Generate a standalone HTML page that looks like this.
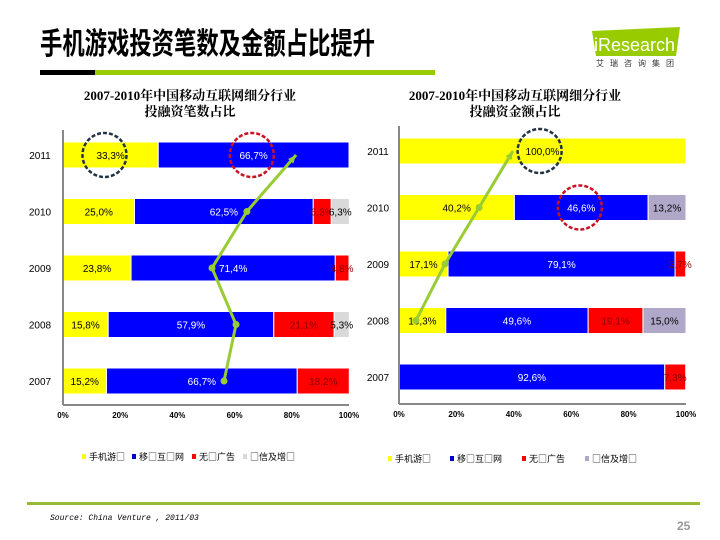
<!DOCTYPE html>
<html><head><meta charset="utf-8"><style>
body{margin:0;background:#fff}
svg{display:block;font-family:"Liberation Sans","Noto Sans CJK SC",sans-serif}
</style></head><body>
<svg id="c" width="720" height="540" viewBox="0 0 720 540">
<text x="40" y="54" font-size="30" font-weight="bold" textLength="335" lengthAdjust="spacingAndGlyphs" font-family="'Noto Sans CJK SC',sans-serif">手机游戏投资笔数及金额占比提升</text>
<rect x="40" y="70" width="55" height="5" fill="#000"/>
<rect x="95" y="70" width="340" height="5" fill="#99cc00"/>
<g>
<path d="M592 31 L680 27 L676 56 L596 56 Z" fill="#99cc00"/>
<text x="594" y="51" font-size="18" fill="#fff">iResearch</text>
<text x="596" y="66" font-size="8" fill="#333" letter-spacing="6" font-family="'Noto Sans CJK SC',sans-serif">艾瑞咨询集团</text>
</g>
<g font-weight="bold" font-size="13" text-anchor="middle" font-family="'Liberation Serif','Noto Serif CJK SC',serif">
<text x="190" y="100">2007-2010年中国移动互联网细分行业</text>
<text x="190" y="116">投融资笔数占比</text>
<text x="515" y="100">2007-2010年中国移动互联网细分行业</text>
<text x="515" y="116">投融资金额占比</text>
</g>
<g id="left"></g><g id="right"></g>
<g font-size="9" font-family="'Noto Sans CJK SC',sans-serif">
<rect x="82" y="454" width="4" height="5" fill="#ffff00"/><text x="89" y="460">手机游□</text>
<rect x="132" y="454" width="4" height="5" fill="#0000cc"/><text x="139" y="460">移□互□网</text>
<rect x="192" y="454" width="4" height="5" fill="#ff0000"/><text x="199" y="460">无□广告</text>
<rect x="243" y="454" width="4" height="5" fill="#d9d9d9"/><text x="250" y="460">□信及增□</text>
<rect x="388" y="456" width="4" height="5" fill="#ffff00"/><text x="395" y="462">手机游□</text>
<rect x="450" y="456" width="4" height="5" fill="#0000cc"/><text x="457" y="462">移□互□网</text>
<rect x="522" y="456" width="4" height="5" fill="#ff0000"/><text x="529" y="462">无□广告</text>
<rect x="585" y="456" width="4" height="5" fill="#b0a8c8"/><text x="592" y="462">□信及增□</text>
</g>
<rect x="27" y="502" width="673" height="3" fill="#99bb33"/>
<text x="50" y="520" font-size="8" font-style="italic" font-family="'Liberation Mono',monospace">Source: China Venture , 2011/03</text>
<text x="677" y="530" font-size="12" font-weight="bold" fill="#999">25</text>
</svg>
<script>
const years=['2011','2010','2009','2008','2007'];
const ticks=['0%','20%','40%','60%','80%','100%'];
const leftGames=[33.3,25.0,23.8,15.8,15.2];
const leftMobile=[66.7,62.5,71.4,57.9,66.7];
const leftAds=[0,6.3,4.8,21.1,18.2];
const leftVas=[0,6.3,0,5.3,0];
const leftTrend=[81.5,64.3,52.1,60.5,56.3];
const rightGames=[100.0,40.2,17.1,16.3,0];
const rightMobile=[0,46.6,79.1,49.6,92.6];
const rightAds=[0,0,3.7,19.1,7.3];
const rightVas=[0,13.2,0,15.0,0];
const rightTrend=[39.7,27.9,16.0,5.9,null];
const NS='http://www.w3.org/2000/svg';
function mk(p,t,a){const e=document.createElementNS(NS,t);for(const k in a)e.setAttribute(k,a[k]);p.appendChild(e);return e;}
function chart(g,side,x0,x1,yTop,axisY,yearX,series,colors,labelColors,trend,circles){
  const X=v=>x0+(x1-x0)*v/100;
  const Y=i=>yTop+i*56.5;
  const bh=26;
  ticks.forEach((t,i)=>{const e=mk(g,'text',{x:X(i*20),y:axisY+13,'font-size':8,'font-weight':'bold','text-anchor':'middle'});e.textContent=t;
    
    });
  years.forEach((yr,i)=>{
    const e=mk(g,'text',{x:yearX,y:Y(i)+bh/2+4,'font-size':10,'text-anchor':'middle'});e.textContent=yr;
    
    
    let acc=0;
    series.forEach((s,k)=>{const v=s[i];if(!v){return;}
      const r=mk(g,'rect',{x:X(acc),y:Y(i),width:X(acc+v)-X(acc),height:bh,fill:colors[k],stroke:'#fff','stroke-width':1});
      
      
      const tx=mk(g,'text',{x:(X(acc)+X(acc+v))/2,y:Y(i)+bh/2+4,'font-size':10,'text-anchor':'middle',fill:labelColors[k]});
      tx.textContent=v.toFixed(1).replace('.',',')+'%';
      
      
      acc+=v;});
  });
  const ax1=mk(g,'line',{x1:x0,y1:yTop-12,x2:x0,y2:axisY,stroke:'#888','stroke-width':2});
  
  
  const ax2=mk(g,'line',{x1:x0,y1:axisY,x2:x1,y2:axisY,stroke:'#888','stroke-width':2});
  
  
  const pts=[];trend.forEach((v,i)=>{if(v!==null)pts.push([X(v),Y(i)+bh/2]);});
  pts.reverse();
  const pl=mk(g,'polyline',{points:pts.map(p=>p.join(',')).join(' '),fill:'none',stroke:'#99cc33','stroke-width':3});
  
  
  pts.slice(0,-1).forEach(p=>{mk(g,'circle',{cx:p[0],cy:p[1],r:3.5,fill:'#99cc33'});});
  const a=pts[pts.length-1],b=pts[pts.length-2];const ang=Math.atan2(a[1]-b[1],a[0]-b[0]);
  const ah=mk(g,'polygon',{points:[a,[a[0]-9*Math.cos(ang-0.4),a[1]-9*Math.sin(ang-0.4)],[a[0]-9*Math.cos(ang+0.4),a[1]-9*Math.sin(ang+0.4)]].map(p=>p.join(',')).join(' '),fill:'#99cc33'});
  
  
  circles.forEach(c=>{const ci=mk(g,'circle',{cx:X(c[0]),cy:Y(c[1])+bh/2,r:22,fill:'none',stroke:c[2],'stroke-width':2.5,'stroke-dasharray':'4 2'});
    
    });
}
const cols=['#ffff00','#0000ff','#ff0000'];
chart(document.getElementById('left'),'left',63,349,142,405,40,[leftGames,leftMobile,leftAds,leftVas],[...cols,'#d9d9d9'],['#000','#fff','#800','#000'],leftTrend,[[14.5,0,'#223344'],[66,0,'#cc1122']]);
chart(document.getElementById('right'),'right',399,686,138,404,378,[rightGames,rightMobile,rightAds,rightVas],[...cols,'#b0a8c8'],['#000','#fff','#800','#000'],rightTrend,[[49,0,'#223344'],[63,1,'#cc1122']]);
</script>
</body></html>
